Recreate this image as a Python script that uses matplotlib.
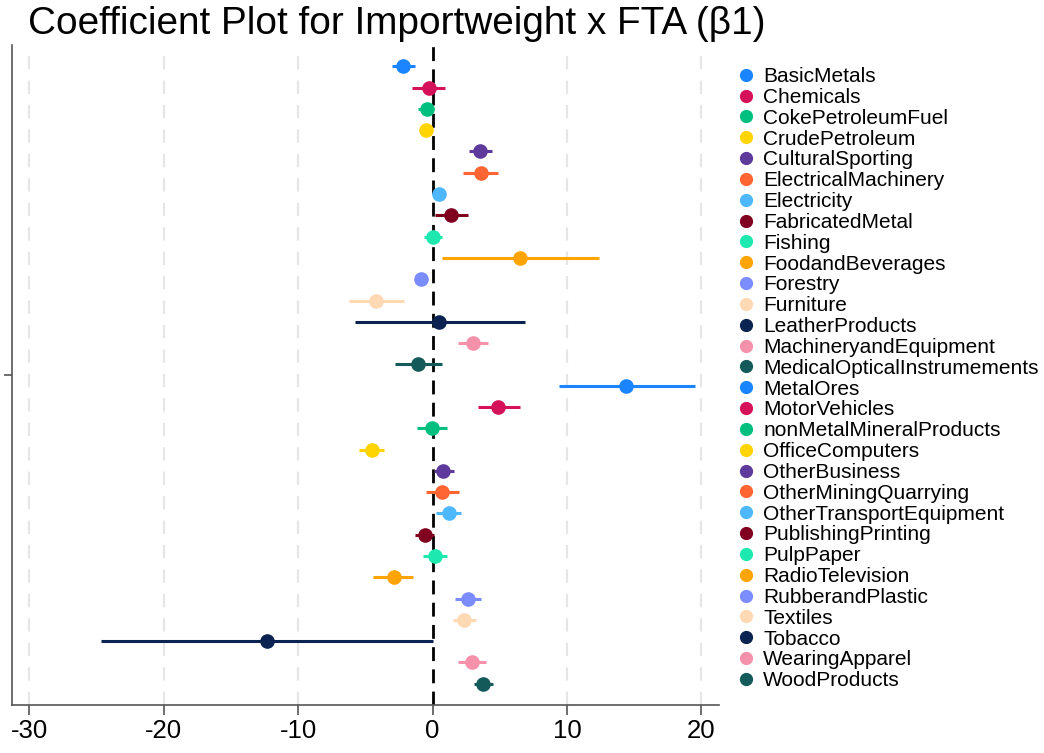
import matplotlib.pyplot as plt
from matplotlib.lines import Line2D

plt.rcParams['font.family'] = ['Liberation Sans', 'DejaVu Sans']
plt.rcParams['axes.unicode_minus'] = False

sectors = ['BasicMetals', 'Chemicals', 'CokePetroleumFuel', 'CrudePetroleum',
           'CulturalSporting', 'ElectricalMachinery', 'Electricity', 'FabricatedMetal',
           'Fishing', 'FoodandBeverages', 'Forestry', 'Furniture', 'LeatherProducts',
           'MachineryandEquipment', 'MedicalOpticalInstrumements', 'MetalOres',
           'MotorVehicles', 'nonMetalMineralProducts', 'OfficeComputers', 'OtherBusiness',
           'OtherMiningQuarrying', 'OtherTransportEquipment', 'PublishingPrinting',
           'PulpPaper', 'RadioTelevision', 'RubberandPlastic', 'Textiles', 'Tobacco',
           'WearingApparel', 'WoodProducts']

coef = [-2.2, -0.3, -0.45, -0.5, 3.5, 3.6, 0.5, 1.4, 0.0, 6.5, -0.85, -4.2, 0.5,
        3.0, -1.1, 14.4, 4.9, -0.05, -4.5, 0.8, 0.7, 1.2, -0.6, 0.15, -2.9, 2.6,
        2.35, -12.35, 2.9, 3.75]
ci_low = [-3.0, -1.5, -1.1, -0.8, 2.7, 2.3, 0.2, 0.2, -0.65, 0.67, -1.15, -6.2, -5.8,
          1.9, -2.8, 9.4, 3.4, -1.15, -5.5, 0.1, -0.5, 0.25, -1.3, -0.75, -4.4, 1.7,
          1.5, -24.65, 1.9, 3.1]
ci_high = [-1.3, 0.9, 0.1, -0.2, 4.4, 4.9, 0.8, 2.65, 0.7, 12.4, -0.55, -2.1, 6.9,
           4.1, 0.67, 19.5, 6.5, 1.1, -3.6, 1.6, 2.0, 2.1, 0.07, 1.1, -1.45, 3.6,
           3.2, 0.02, 4.0, 4.5]

palette = ['#1a85ff', '#d41159', '#00bf7f', '#ffd400', '#5d3a9b', '#ff6433', '#4db8ff',
           '#800020', '#1ce8b0', '#ffa400', '#7b8cff', '#ffd8b4', '#0a2351', '#f591aa',
           '#155a5a']

fig = plt.figure(figsize=(10.44, 7.53), dpi=100)
ax = fig.add_axes([0.0115, 0.0637, 0.677, 0.8765])

handles = []
for i, name in enumerate(sectors):
    col = palette[i % len(palette)]
    y = i + 1
    ax.plot([ci_low[i], ci_high[i]], [y, y], color=col, lw=2.2, solid_capstyle='butt', zorder=3)
    ax.plot(coef[i], y, 'o', color=col, ms=9.5, zorder=4)
    handles.append(Line2D([], [], marker='o', color=col, ls='none', ms=8.5, label=name))

for gx in [-30, -20, -10, 10, 20]:
    ax.axvline(gx, color='#e6e6e6', lw=1.6, ls=(0, (6, 5)), zorder=1)
ax.axvline(0, color='black', lw=2, ls=(0, (5, 3)), zorder=2)

ax.set_xlim(-31.3, 21.3)
ax.set_ylim(31, 0)
ax.set_xticks([-30, -20, -10, 0, 10, 20])
ax.set_yticks([15.5])
ax.set_yticklabels([''])
ax.tick_params(axis='x', labelsize=18.5, length=7, width=1.2, color='#555555', pad=3)
ax.tick_params(axis='y', length=6, width=1.2, color='#555555')
for s in ['top', 'right']:
    ax.spines[s].set_visible(False)
for s in ['left', 'bottom']:
    ax.spines[s].set_color('#555555')
    ax.spines[s].set_linewidth(1.2)

fig.text(0.027, 0.968, 'Coefficient Plot for Importweight x FTA (\u03b21)', fontsize=27.9,
         va='center', ha='left')

fig.legend(handles=handles, loc='upper left', bbox_to_anchor=(0.697, 0.922),
           frameon=False, fontsize=15, labelspacing=0.088, handletextpad=0.3,
           handlelength=1.0, borderaxespad=0)

fig.savefig('out.png', dpi=100)
